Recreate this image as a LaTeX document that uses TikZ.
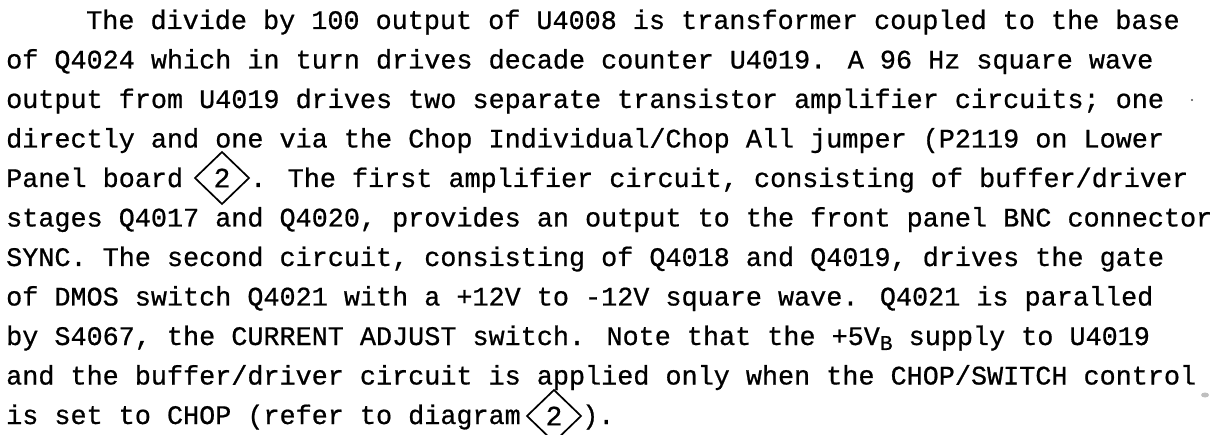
\documentclass[tikz,border=0pt]{standalone}
\usepackage{fontspec}
\newfontfamily\tw[FakeBold=0.7]{Liberation Mono}
\begin{document}
\begin{tikzpicture}[x=1pt,y=1pt,
  txt/.style={anchor=base west, inner sep=0pt, font=\tw\fontsize{26.8}{30}\selectfont},
  dnum/.style={anchor=center, inner sep=0pt, font=\tw\fontsize{28}{30}\selectfont},
  dline/.style={line width=1.7pt, line join=miter}]
\useasboundingbox (0,0) rectangle (1215,434);
\def\lx{6}
\node[txt] (l1) at (86,405) {The divide by 100 output of U4008 is transformer coupled to the base};
\node[txt] (l2) at (\lx,365.5) {of Q4024 which in turn drives decade counter U4019. A 96 Hz square wave};
\node[txt] (l3) at (\lx,326) {output from U4019 drives two separate transistor amplifier circuits; one};
\node[txt] (l4) at (\lx,286.5) {directly and one via the Chop Individual/Chop All jumper (P2119 on Lower};
\node[txt] (l5a) at (\lx,247) {Panel board};
\node[dnum] (d1) at (222,256) {2};
\draw[dline] ([xshift=-27pt]d1.center) -- ([yshift=26pt]d1.center) -- ([xshift=27pt]d1.center) -- ([yshift=-26pt]d1.center) -- cycle;
\node[txt] (l5b) at (250,247) {. The first amplifier circuit, consisting of buffer/driver};
\node[txt] (l6) at (\lx,207.5) {stages Q4017 and Q4020, provides an output to the front panel BNC connector};
\node[txt] (l7) at (\lx,168) {SYNC. The second circuit, consisting of Q4018 and Q4019, drives the gate};
\node[txt] (l8) at (\lx,128.5) {of DMOS switch Q4021 with a +12V to -12V square wave. Q4021 is paralled};
\node[txt] (l9) at (\lx,89) {by S4067, the CURRENT ADJUST switch. Note that the +5V\raisebox{-0.35ex}{\fontsize{21}{21}\selectfont B} supply to U4019};
\node[txt] (l10) at (\lx,49.5) {and the buffer/driver circuit is applied only when the CHOP/SWITCH control};
\node[txt] (l11a) at (\lx,10) {is set to CHOP (refer to diagram};
\node[dnum] (d2) at (554,18) {2};
\draw[dline] ([xshift=-27pt]d2.center) -- ([yshift=26pt]d2.center) -- ([xshift=27pt]d2.center) -- ([yshift=-26pt]d2.center) -- cycle;
\node[txt] (l11b) at (582,10) {).};
\fill[black!70] (1192,334) circle (1.2pt);
\fill[black!25] (1205,39) ellipse (4pt and 2.5pt);
\end{tikzpicture}
\end{document}
